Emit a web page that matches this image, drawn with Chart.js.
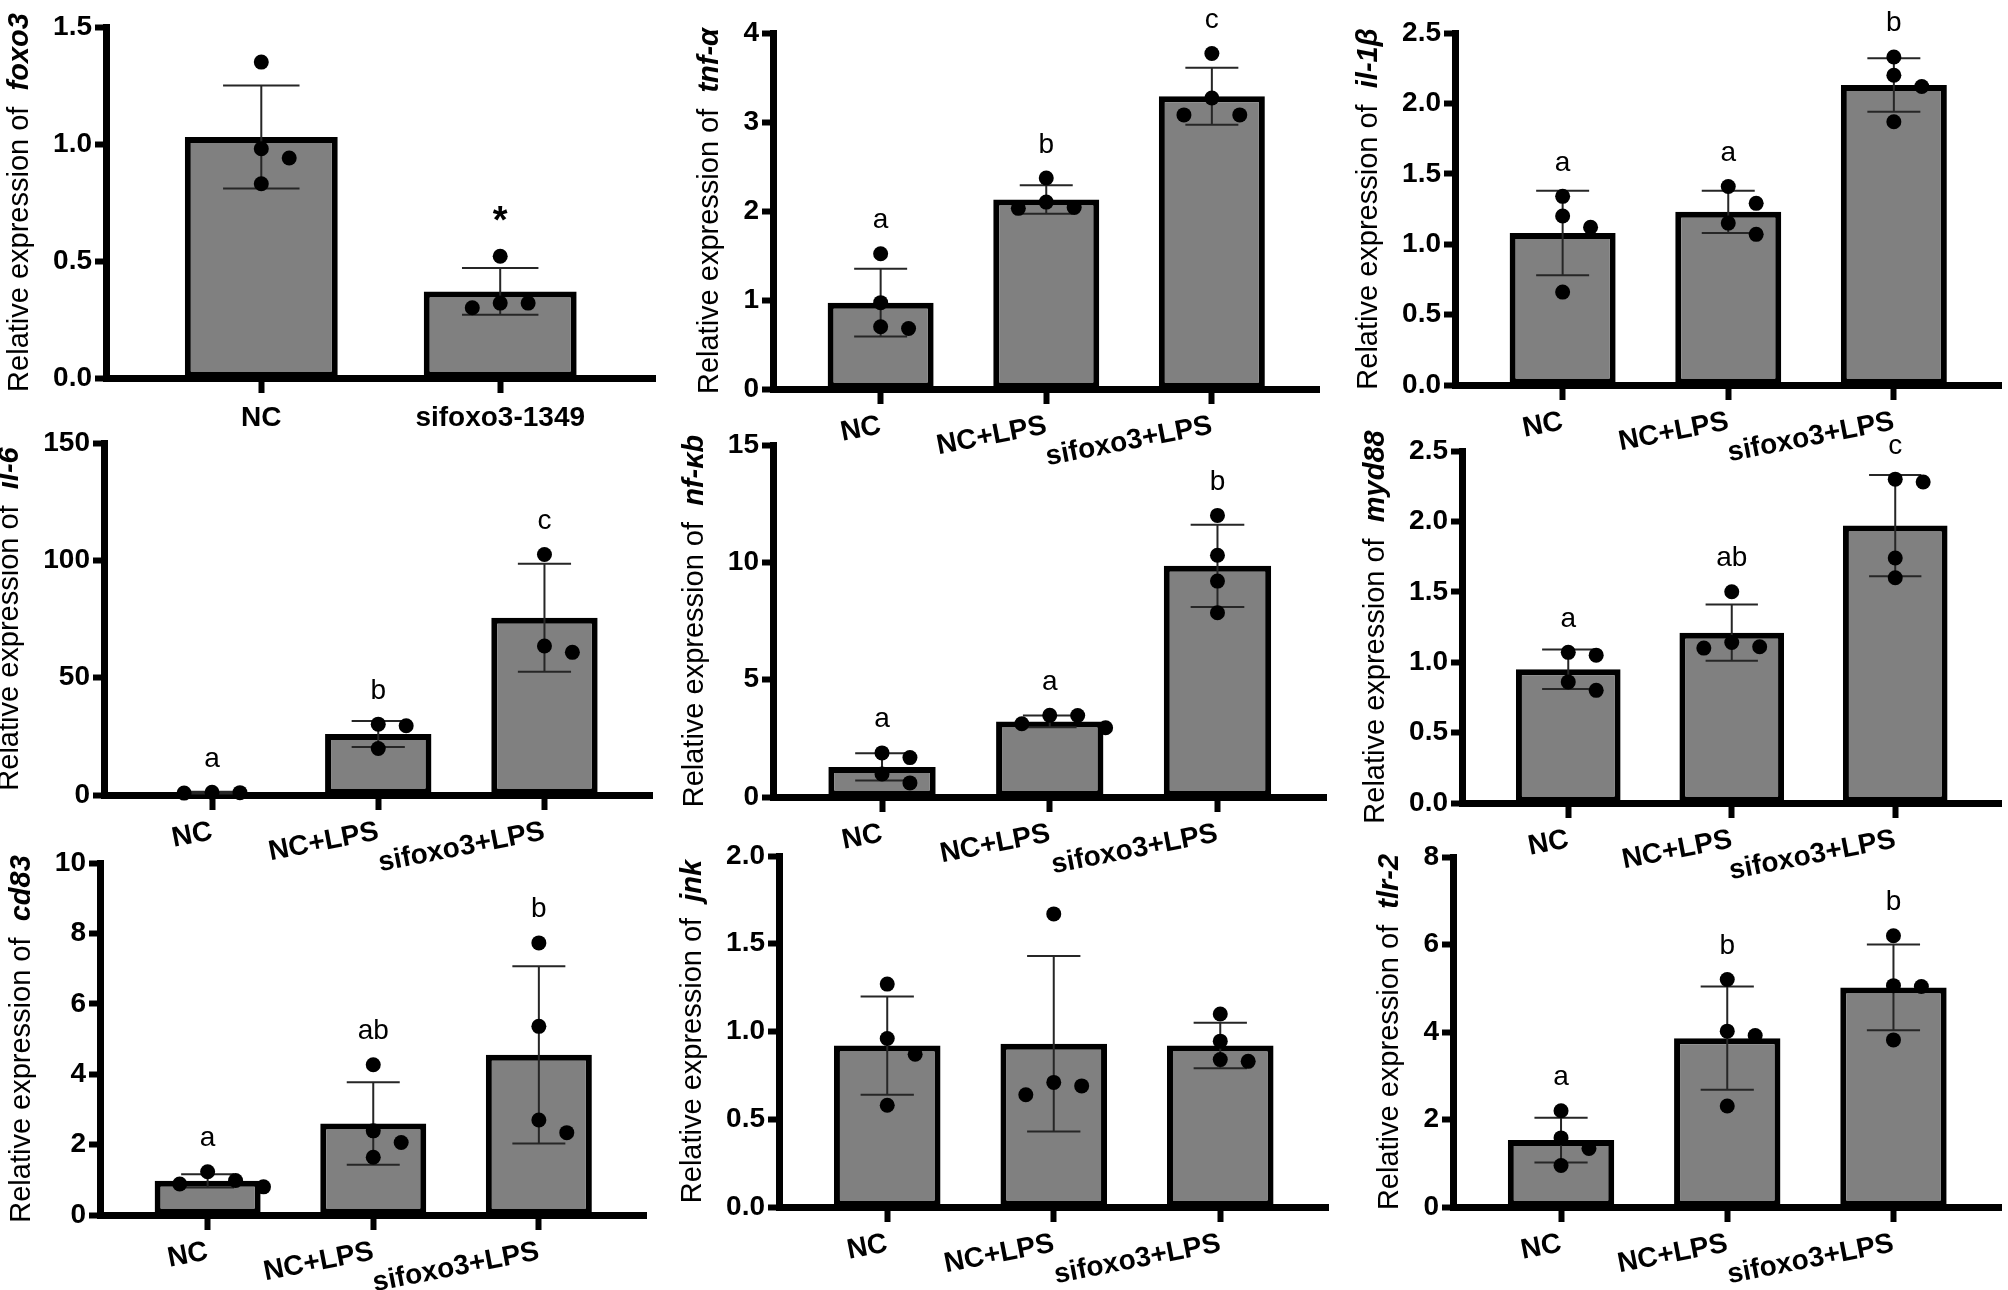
<!DOCTYPE html>
<html>
<head>
<meta charset="utf-8">
<script src="https://cdn.jsdelivr.net/npm/chart.js@4.4.1/dist/chart.umd.min.js"></script>
<style>
    html, body { margin: 0; padding: 0; background: #fff; overflow: hidden; }
    #wrap { position: relative; width: 2008px; height: 1290px; }
    #wrap canvas { position: absolute; }
</style>
</head>
<body>
<div id="wrap"></div>
<script>
// values: bar = mean, whisker = SD, dots = replicates
const genes = ['foxo3', 'tnf-α', 'il-1β', 'il-6', 'nf-κb', 'myd88', 'cd83', 'jnk', 'tlr-2'];
const groupsSi = ['NC', 'sifoxo3-1349'];
const groupsLps = ['NC', 'NC+LPS', 'sifoxo3+LPS'];
const yMax = [1.5, 4, 2.5, 150, 15, 2.5, 10, 2.0, 8];
const yStep = [0.5, 1, 0.5, 50, 5, 0.5, 2, 0.5, 2];
const yDigits = [1, 0, 1, 0, 0, 1, 0, 1, 0];

const means = [
    [1.03, 0.37],
    [0.97, 2.13, 3.29],
    [1.08, 1.23, 2.13],
    [1.0, 26, 75.5],
    [1.28, 3.22, 9.85],
    [0.95, 1.21, 1.97],
    [0.97, 2.6, 4.55],
    [0.92, 0.93, 0.92],
    [1.53, 3.86, 5.02]
];
const sds = [
    [0.22, 0.10],
    [0.38, 0.16, 0.32],
    [0.30, 0.15, 0.19],
    [0.4, 5.5, 23],
    [0.58, 0.25, 1.75],
    [0.14, 0.20, 0.36],
    [0.19, 1.17, 2.52],
    [0.28, 0.50, 0.13],
    [0.51, 1.18, 0.98]
];
const points = [
    [[1.35, 0.98, 0.94, 0.83], [0.52, 0.32, 0.32, 0.30]],
    [[1.52, 0.97, 0.68, 0.70], [2.37, 2.10, 2.03, 2.04], [3.77, 3.27, 3.08, 3.08]],
    [[1.34, 1.20, 1.12, 0.66], [1.41, 1.29, 1.15, 1.07], [2.33, 2.20, 2.12, 1.87]],
    [[1.0, 1.2, 0.8], [29.5, 30.2, 19.8], [102.5, 60.8, 63.5]],
    [[1.88, 1.68, 0.98, 0.60], [2.95, 3.48, 3.12, 3.47], [12.0, 10.3, 9.2, 7.85]],
    [[1.07, 1.05, 0.86, 0.80], [1.50, 1.10, 1.14, 1.11], [2.30, 2.28, 1.74, 1.60]],
    [[0.80, 1.23, 0.88, 0.98], [4.27, 2.06, 1.64, 2.39], [7.73, 5.36, 2.34, 2.70]],
    [[1.27, 0.96, 0.87, 0.58], [1.67, 0.64, 0.71, 0.69], [1.10, 0.945, 0.83, 0.84]],
    [[2.20, 1.58, 1.34, 0.95], [5.20, 3.92, 4.02, 2.31], [6.20, 5.04, 5.06, 3.82]]
];
const letters = [
    ['', '*'],
    ['a', 'b', 'c'],
    ['a', 'a', 'b'],
    ['a', 'b', 'c'],
    ['a', 'a', 'b'],
    ['a', 'ab', 'c'],
    ['a', 'ab', 'b'],
    ['', '', ''],
    ['a', 'b', 'b']
];

// page layout of each panel: y-axis x, top tick y, zero line y, x-axis end
const panelBox = [
    [106, 27, 378, 657], [773, 33, 389, 1321], [1455, 33, 385, 2003],
    [104, 443, 795, 654], [773, 445, 797, 1328], [1462, 451, 803, 2003],
    [100, 863, 1215, 648], [779, 856, 1207, 1330], [1453, 857, 1207, 2003]
];

const SANS = "'Liberation Sans', Arial, sans-serif";
const NARROW = "'Liberation Sans Narrow', 'Arial Narrow', 'Liberation Sans', sans-serif";
const Y_W = 120, X_H = 95, PAD_T = 42, PAD_R = 6, EDGE = 0.65;
const DOT_R = 7.5;

// GraphPad-like spreading of replicate dots so they don't overlap
function spread(vals, pxPerY, unitPx) {
    const step = 28, minDist = 17;
    const order = vals.map((v, i) => i).sort((a, b) => vals[b] - vals[a]);
    const placed = [];
    const off = vals.map(() => 0);
    for (const i of order) {
        for (const k of [0, 1, -1, 2, -2, 3, -3]) {
            const ok = placed.every(([pk, pv]) => Math.hypot((k - pk) * step, (vals[i] - pv) * pxPerY) >= minDist);
            if (ok) {
                off[i] = k * step / unitPx;
                placed.push([k, vals[i]]);
                break;
            }
        }
    }
    return off;
}

const panelExtras = {
    id: 'panelExtras',
    afterDatasetDraw(chart, args, opts) {
        if (args.index !== 1) return;
        const p = opts.p, ctx = chart.ctx;
        const xs = chart.scales.x, ys = chart.scales.y;
        const bars = args.meta.data;
        ctx.save();
        ctx.strokeStyle = '#262626';
        ctx.lineWidth = 2;
        means[p].forEach((m, i) => {
            const x = xs.getPixelForValue(i + 1);
            const half = bars[i].width / 4;
            const y1 = ys.getPixelForValue(m + sds[p][i]);
            const y0 = ys.getPixelForValue(Math.max(0, m - sds[p][i]));
            ctx.beginPath();
            ctx.moveTo(x, y0); ctx.lineTo(x, y1);
            ctx.moveTo(x - half, y1); ctx.lineTo(x + half, y1);
            ctx.moveTo(x - half, y0); ctx.lineTo(x + half, y0);
            ctx.stroke();
        });
        ctx.restore();
    },
    afterDraw(chart, args, opts) {
        const p = opts.p, ctx = chart.ctx;
        const xs = chart.scales.x, ys = chart.scales.y, area = chart.chartArea;
        ctx.save();
        ctx.fillStyle = '#000';
        ctx.textAlign = 'center';
        ctx.textBaseline = 'alphabetic';
        // significance letters
        letters[p].forEach((t, i) => {
            if (!t) return;
            const x = xs.getPixelForValue(i + 1);
            const topErr = ys.getPixelForValue(means[p][i] + sds[p][i]);
            const topDot = ys.getPixelForValue(Math.max(...points[p][i])) - DOT_R;
            const top = Math.min(topErr, topDot);
            if (t === '*') {
                ctx.font = 'bold 38px ' + SANS;
                ctx.fillText(t, x, top - 16);
            } else {
                ctx.font = '28px ' + SANS;
                ctx.fillText(t, x, top - 18);
            }
        });
        // y-axis title: plain text + italic bold gene name
        ctx.font = 'bold 28px ' + NARROW;
        const widest = ctx.measureText(yMax[p].toFixed(yDigits[p])).width;
        const tx = area.left - 15 - widest - 32;
        const ty = (area.top + area.bottom) / 2;
        const part1 = 'Relative expression of  ';
        const part2 = genes[p];
        ctx.font = '29px ' + SANS;
        const w1 = ctx.measureText(part1).width;
        ctx.font = 'italic bold 29px ' + SANS;
        const w2 = ctx.measureText(part2).width;
        ctx.translate(tx, ty);
        ctx.rotate(-Math.PI / 2);
        ctx.textAlign = 'left';
        ctx.textBaseline = 'middle';
        ctx.font = '29px ' + SANS;
        ctx.fillText(part1, -(w1 + w2) / 2, 0);
        ctx.font = 'italic bold 29px ' + SANS;
        ctx.fillText(part2, -(w1 + w2) / 2 + w1, 0);
        ctx.restore();
    }
};

const wrap = document.getElementById('wrap');

genes.forEach((gene, p) => {
    const cats = means[p].length === 2 ? groupsSi : groupsLps;
    const n = cats.length;
    const [ax, top, base, right] = panelBox[p];
    const left = ax - Y_W, ctop = top - PAD_T;
    const cv = document.createElement('canvas');
    cv.width = right + PAD_R - left;
    cv.height = base + X_H - ctop;
    cv.style.left = left + 'px';
    cv.style.top = ctop + 'px';
    wrap.appendChild(cv);

    const unitPx = (right - ax) / (n - 1 + 2 * EDGE);
    const pxPerY = (base - top) / yMax[p];
    const dots = [];
    points[p].forEach((vals, i) => {
        const off = spread(vals, pxPerY, unitPx);
        vals.forEach((v, j) => dots.push({ x: i + 1 + off[j], y: v }));
    });
    const rot = n === 2 ? 0 : 11;

    new Chart(cv, {
        type: 'bar',
        data: {
            datasets: [
                {
                    type: 'scatter',
                    data: dots,
                    order: 0,
                    pointRadius: DOT_R,
                    pointBackgroundColor: '#000',
                    pointBorderWidth: 0,
                    clip: false
                },
                {
                    type: 'bar',
                    data: means[p].map((m, i) => ({ x: i + 1, y: m })),
                    order: 1,
                    backgroundColor: '#808080',
                    borderColor: '#000',
                    borderWidth: 6,
                    borderSkipped: false,
                    categoryPercentage: 1,
                    barPercentage: 0.64
                }
            ]
        },
        options: {
            responsive: false,
            animation: false,
            events: [],
            layout: { padding: { top: PAD_T, right: PAD_R, left: 0, bottom: 0 } },
            plugins: {
                legend: { display: false },
                tooltip: { enabled: false },
                panelExtras: { p }
            },
            scales: {
                x: {
                    type: 'linear',
                    min: 1 - EDGE,
                    max: n + EDGE,
                    offset: false,
                    afterBuildTicks: s => { s.ticks = cats.map((c, i) => ({ value: i + 1 })); },
                    afterFit: s => { s.height = X_H; },
                    grid: { offset: false, drawOnChartArea: false, drawTicks: true, tickLength: 15, tickWidth: 6, tickColor: '#000' },
                    border: { display: true, width: 7, color: '#000' },
                    ticks: {
                        autoSkip: false,
                        minRotation: rot,
                        maxRotation: rot,
                        padding: rot ? 5 : 8,
                        color: '#000',
                        font: { family: NARROW, size: 28, weight: 'bold' },
                        callback: v => cats[Math.round(v) - 1]
                    }
                },
                y: {
                    type: 'linear',
                    min: 0,
                    max: yMax[p],
                    afterFit: s => { s.width = Y_W; },
                    grid: { drawOnChartArea: false, drawTicks: true, tickLength: 11, tickWidth: 6, tickColor: '#000' },
                    border: { display: true, width: 7, color: '#000' },
                    ticks: {
                        stepSize: yStep[p],
                        padding: 3,
                        color: '#000',
                        font: { family: NARROW, size: 28, weight: 'bold' },
                        callback: v => Number(v).toFixed(yDigits[p])
                    }
                }
            }
        },
        plugins: [panelExtras]
    });
});
</script>
</body>
</html>
